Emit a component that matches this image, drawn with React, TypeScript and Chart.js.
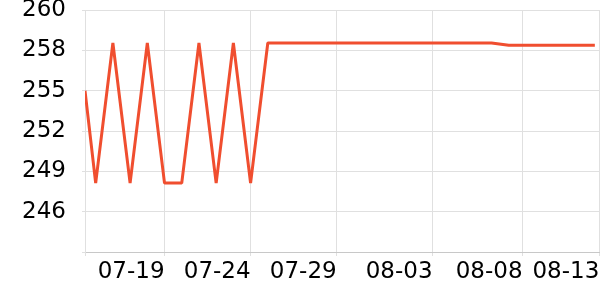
import React, { useEffect, useRef } from "react";
import { Chart, registerables } from "chart.js";

Chart.register(...registerables);

// x positions in days after 07-15 (first reading was taken late on 07-14)
const xDays: number[] = [
  -0.62, 0, 1, 2, 3, 4, 5, 6, 7, 8, 9, 10, 11, 12, 13, 14, 15, 16, 17, 18, 19,
  20, 21, 22, 23, 24, 25, 26, 27, 28, 29,
];
const prices: number[] = [
  254.5, 248.2, 257.75, 248.2, 257.75, 248.2, 248.2, 257.75, 248.2, 257.75, 248.2,
  257.75, 257.75, 257.75, 257.75, 257.75, 257.75, 257.75, 257.75, 257.75, 257.75,
  257.75, 257.75, 257.75, 257.75, 257.6, 257.6, 257.6, 257.6, 257.6, 257.6,
];

const xTickValues: number[] = [-0.62, 4, 9, 14, 19.57, 24.8, 29.26];
const xTickLabels: string[] = ["", "07-19", "07-24", "07-29", "08-03", "08-08", "08-13"];

const yTickValues: number[] = [260, 257.25, 254.5, 251.75, 249, 246.25, 243.5];
const yTickLabels: string[] = ["260", "258", "255", "252", "249", "246", ""];

const LINE_COLOR = "#f04e2f";
const GRID = "#e0e0e0";
const FONT = "'DejaVu Sans', sans-serif";

export default function App() {
  const ref = useRef<HTMLCanvasElement | null>(null);

  useEffect(() => {
    document.body.style.margin = "0";
    const canvas = ref.current;
    if (!canvas) return;
    const chart = new Chart(canvas, {
      type: "line",
      data: {
        datasets: [
          {
            data: xDays.map((x, i) => ({ x, y: prices[i] })),
            borderColor: LINE_COLOR,
            borderWidth: 3,
            borderJoinStyle: "bevel",
            pointRadius: 0,
            tension: 0,
            fill: false,
          },
        ],
      },
      options: {
        animation: false,
        responsive: false,
        devicePixelRatio: 1,
        layout: { padding: { top: 0, right: 0, bottom: 0, left: 0 } },
        plugins: { legend: { display: false }, tooltip: { enabled: false } },
        scales: {
          x: {
            type: "linear",
            min: xTickValues[0],
            max: 29.3,
            afterBuildTicks: (scale: any) => {
              scale.ticks = xTickValues.map((v) => ({ value: v }));
            },
            afterFit: (scale: any) => {
              scale.height = 48;
              scale.paddingLeft = 0;
              scale.paddingRight = 0;
            },
            ticks: {
              autoSkip: false,
              maxRotation: 0,
              minRotation: 0,
              align: "end",
              padding: 2,
              color: "#000",
              font: { family: FONT, size: 23 },
              callback: (_v: any, i: number) => xTickLabels[i],
            },
            grid: { color: GRID, tickLength: 4 },
            border: { color: "#c8c8c8" },
          },
          y: {
            type: "linear",
            min: yTickValues[yTickValues.length - 1],
            max: yTickValues[0],
            afterBuildTicks: (scale: any) => {
              scale.ticks = yTickValues.map((v) => ({ value: v }));
            },
            afterFit: (scale: any) => {
              scale.width = 85;
              scale.paddingTop = 10;
              scale.paddingBottom = 0;
            },
            ticks: {
              autoSkip: false,
              padding: 16,
              color: "#000",
              font: { family: FONT, size: 23 },
              callback: function (this: any, value: any) {
                const i = yTickValues.indexOf(Number(value));
                return i >= 0 ? yTickLabels[i] : "";
              },
            },
            grid: { color: GRID, tickLength: 3 },
            border: { color: GRID },
          },
        },
      },
    });
    return () => chart.destroy();
  }, []);

  return <canvas ref={ref} width={600} height={300} style={{ display: "block" }} />;
}
